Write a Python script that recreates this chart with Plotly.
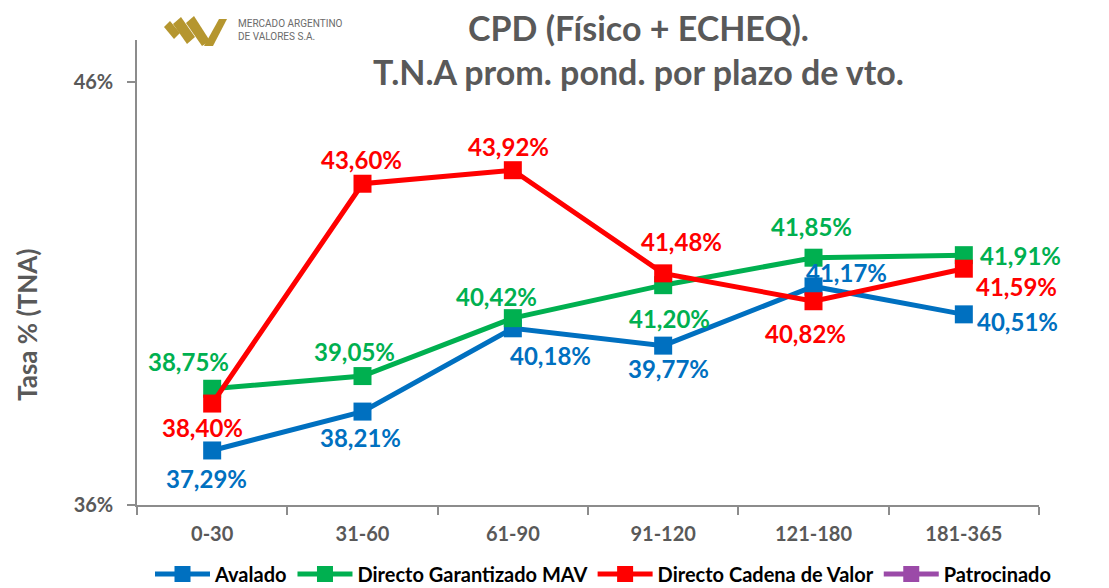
import plotly.graph_objects as go

categories = ["0-30", "31-60", "61-90", "91-120", "121-180", "181-365"]
avalado = [37.29, 38.21, 40.18, 39.77, 41.17, 40.51]
garantizado = [38.75, 39.05, 40.42, 41.20, 41.85, 41.91]
cadena = [38.40, 43.60, 43.92, 41.48, 40.82, 41.59]
patrocinado = [None, None, None, None, None, None]
y_ticks = [36, 46]
y_tick_labels = ["36%", "46%"]

W, H = 1109, 588
L, R, T, B = 137, 1039, 40, 505

def px(x):
    return (x - L) / (R - L)

def py(y):
    return (B - y) / (B - T)

BLUE = "#0070C0"
GREEN = "#00B050"
RED = "#FF0000"
PURPLE = "#9B4AA8"
GRAY = "#595959"
LABEL_FONT = "Lato, sans-serif"

fig = go.Figure()
series = [
    ("Avalado", avalado, BLUE),
    ("Directo Garantizado MAV", garantizado, GREEN),
    ("Directo Cadena de Valor", cadena, RED),
    ("Patrocinado", patrocinado, PURPLE),
]
for name, vals, col in series:
    fig.add_trace(go.Scatter(
        x=categories, y=vals, name=name, mode="lines+markers",
        line=dict(color=col, width=5),
        marker=dict(symbol="square", size=18, color=col),
    ))

# label offsets (xshift, yshift) per series
offsets = {
    "Avalado": [(-6, -28), (-2, -26), (38, -27), (5, -23), (33, 14), (54, -7)],
    "Directo Garantizado MAV": [(-24, 27), (-8, 25), (-16, 22), (6, -33), (-2, 31), (57, 0)],
    "Directo Cadena de Valor": [(-10, -24), (-1, 24), (-4, 24), (18, 32), (-8, -32), (53, -18)],
}
annotations = []
for name, vals, col in series:
    if name not in offsets:
        continue
    for i, v in enumerate(vals):
        dx, dy = offsets[name][i]
        annotations.append(dict(
            x=categories[i], y=v, xref="x", yref="y",
            text=f"{v:.2f}".replace(".", ",") + "%",
            showarrow=False, xshift=dx, yshift=dy,
            font=dict(family=LABEL_FONT, size=24, color=col, weight="bold"),
        ))

# logo text
annotations.append(dict(
    x=px(236), y=py(30), xref="paper", yref="paper", xanchor="left", yanchor="middle",
    text="MERCADO ARGENTINO<br>DE VALORES S.A.", showarrow=False, align="left",
    font=dict(family="Liberation Sans Narrow, Roboto, sans-serif", size=10, color="#6b6b6b"),
))

# y-axis title
annotations.append(dict(
    x=px(27), y=py(325), xref="paper", yref="paper", xanchor="center", yanchor="middle",
    textangle=-90, text="Tasa % (TNA)", showarrow=False,
    font=dict(family=LABEL_FONT, size=26, color=GRAY, weight="bold"),
))

# title
annotations.append(dict(
    x=px(638), y=py(50), xref="paper", yref="paper", xanchor="center", yanchor="middle",
    text="CPD (Físico + ECHEQ).<br>T.N.A prom. pond. por plazo de vto.",
    showarrow=False, align="center",
    font=dict(family=LABEL_FONT, size=34, color=GRAY, weight="bold"),
))

# logo shapes (gold parallelograms)
GOLD = "#B5962F"
def path(pts):
    return "M " + " L ".join(f"{px(a)},{py(b)}" for a, b in pts) + " Z"

shapes = []
for pts in [
    [(164, 27), (170, 21), (180, 33), (174, 39)],
    [(173, 24), (181, 17), (195, 37), (187, 44)],
    [(186, 23), (194, 16), (210, 41), (202, 46)],
    [(204, 46), (213, 46), (227, 19), (219, 19)],
]:
    shapes.append(dict(type="path", xref="paper", yref="paper", path=path(pts),
                       fillcolor=GOLD, line=dict(width=0)))

fig.update_layout(
    width=W, height=H,
    margin=dict(l=L, r=W - R, t=T, b=H - B, autoexpand=False),
    plot_bgcolor="white", paper_bgcolor="white",
    showlegend=True,
    legend=dict(
        orientation="h", xref="container", yref="container",
        x=150 / W, y=1 - 574 / H, xanchor="left", yanchor="middle",
        font=dict(family=LABEL_FONT, size=20, color="black", weight="bold"),
        itemwidth=55, tracegroupgap=0, bgcolor="rgba(0,0,0,0)",
    ),
    annotations=annotations,
    shapes=shapes,
)
fig.update_xaxes(
    type="category", categoryorder="array", categoryarray=categories,
    showline=True, linecolor="#8c8c8c", linewidth=1.5, automargin=False,
    ticks="outside", tickson="boundaries", ticklen=8, tickcolor="#8c8c8c", tickwidth=1.5,
    tickfont=dict(family=LABEL_FONT, size=20, color=GRAY, weight="bold"),
    ticklabelstandoff=10, showgrid=False, zeroline=False, range=[-0.5, 5.5],
)
fig.update_yaxes(
    range=[36, 47], tickvals=y_ticks, ticktext=y_tick_labels,
    showline=True, linecolor="#8c8c8c", linewidth=1.5, automargin=False,
    ticks="outside", ticklen=8, tickcolor="#8c8c8c", tickwidth=1.5,
    tickfont=dict(family=LABEL_FONT, size=20, color=GRAY, weight="bold"),
    ticklabelstandoff=10, showgrid=False, zeroline=False,
)

fig.write_html(
    "out.html",
    config={"displayModeBar": False},
    post_script="document.body.style.margin='0';document.body.style.overflow='hidden';",
)
